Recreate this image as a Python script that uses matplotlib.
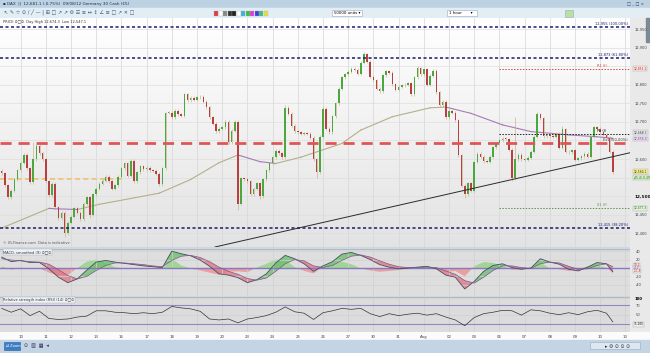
# IG-style DAX hourly chart with MACD and RSI panels
import numpy as np
import matplotlib.pyplot as plt
from matplotlib.patches import Rectangle

W, H = 650, 353

# hourly-ish closes, 8 bars per trading day
closes = [
    12562, 12530, 12497, 12515, 12545, 12570, 12590, 12612, 12575, 12537,
    12600, 12636, 12615, 12600, 12540, 12502, 12533, 12470, 12440, 12455,
    12400, 12428, 12445, 12468, 12455, 12438, 12480, 12497, 12450, 12505,
    12520, 12533, 12542, 12552, 12540, 12520, 12530, 12552, 12575, 12589,
    12555, 12595, 12540, 12565, 12580, 12572, 12576, 12570, 12568, 12560,
    12532, 12575, 12724, 12725, 12712, 12730, 12720, 12716, 12775, 12758,
    12765, 12760, 12766, 12768, 12755, 12740, 12712, 12695, 12675, 12682,
    12685, 12700, 12645, 12676, 12700, 12480, 12548, 12546, 12540, 12505,
    12520, 12535, 12500, 12545, 12570, 12588, 12605, 12622, 12615, 12605,
    12738, 12722, 12690, 12675, 12672, 12668, 12670, 12668, 12658, 12600,
    12565, 12660, 12735, 12682, 12672, 12715, 12750, 12790, 12820, 12828,
    12835, 12843, 12840, 12830, 12860, 12882, 12862, 12822, 12812, 12790,
    12782, 12826, 12836, 12832, 12802, 12786, 12795, 12799, 12800, 12804,
    12775, 12820, 12845, 12828, 12842, 12800, 12825, 12838, 12780, 12745,
    12755, 12712, 12730, 12725, 12705, 12610, 12528, 12505, 12535, 12515,
    12592, 12614, 12606, 12594, 12592, 12606, 12632, 12642, 12650, 12655,
    12654, 12625, 12548, 12600, 12612, 12600, 12598, 12604, 12620, 12660,
    12720, 12710, 12662, 12666, 12662, 12660, 12668, 12630, 12680, 12620,
    12618, 12624, 12598, 12602, 12608, 12614, 12606, 12660, 12685, 12682,
    12672, 12666, 12658, 12620, 12564.1,
]
spike_high = {10: 12645, 90: 12745, 102: 12742, 115: 12888, 163: 12714,
              132: 12850, 178: 12690, 170: 12726}
spike_low = {20: 12390, 75: 12462, 100: 12550, 147: 12495, 162: 12540,
             82: 12492, 28: 12440}

# 200-period moving average (bar index, value)
ma_idx = [0, 15, 17, 24, 31, 50, 60, 69, 75, 82, 87, 95, 108, 114, 124,
          136, 141, 149, 159, 168, 180, 189, 194]
ma_val = [12414, 12467, 12466, 12464, 12478, 12508, 12545, 12590, 12611,
          12593, 12588, 12605, 12642, 12678, 12714, 12738, 12740, 12723,
          12692, 12674, 12665, 12660, 12656]

# oscillators sampled every 3 bars
osc_idx = list(range(0, 193, 3)) + [194]
macd_val = [26, 15, 18, 13, 13, -2, -22, -35, -26, -5, 14, 18, 14, 11, 8, 5,
            3, 1, 40, 34, 29, 19, 4, -14, -17, -23, -35, -28, -14, 12, 30,
            22, 10, -8, 5, 15, 33, 37, 30, 20, 8, 2, -2, 0, 2, 4, -2, -17,
            -22, -50, -32, -8, 6, 10, 1, -3, 0, 22, 14, 9, -3, -7, 2, 13,
            10, -9]
signal_val = [22, 19, 17, 15, 14, 9, -4, -18, -26, -20, -6, 6, 12, 12, 10,
              8, 5, 3, 18, 28, 30, 25, 15, 2, -8, -15, -25, -29, -24, -8,
              10, 20, 17, 5, 1, 6, 18, 28, 31, 26, 17, 9, 3, 1, 1, 2, 1, -7,
              -15, -30, -36, -22, -6, 5, 5, 1, -1, 10, 14, 12, 4, -3, -2, 6,
              10, 3]
rsi_val = [63, 55, 62, 48, 57, 42, 40, 41, 45, 47, 58, 58, 55, 54, 52, 54,
           52, 55, 67, 64, 62, 57, 41, 39, 41, 33, 41, 44, 48, 55, 66, 56,
           53, 40, 54, 58, 63, 61, 63, 52, 46, 52, 48, 51, 53, 49, 52, 45,
           39, 27, 44, 52, 55, 59, 58, 49, 60, 58, 53, 50, 54, 50, 56, 59,
           53, 35]

day_labels = ['10', '11', '12', '13', '16', '17', '18', '19', '20', '23',
              '24', '25', '26', '27', '30', '31', 'Aug', '02', '03', '06',
              '07', '08', '09', '10', '13']
day_start = [6 + 8 * j for j in range(len(day_labels))]

fib_levels = [12955, 12873, 12415]
fib_text = ['12,955 (100.00%)', '12,873 (61.80%)', '12,415 (38.20%)']
fib50 = 12644
old_level = 12545
pivot_names = ['R1 (f)', 'Pv (f)', 'S1 (f)']
pivot_vals = [12843, 12666.3, 12467]
pivot_cols = ['#d04848', '#222222', '#5a9a4a']
trend_idx = [67.7, 199.5]
trend_val = [12363, 12617]


def box(x0, y0, x1, y1):
    return [x0 / W, 1 - y1 / H, (x1 - x0) / W, (y1 - y0) / H]


fig = plt.figure(figsize=(6.5, 3.53), dpi=100)
fig.patch.set_facecolor('#c8d8e6')

# chrome layer in pixel coordinates
bg = fig.add_axes([0, 0, 1, 1])
bg.set_xlim(0, W)
bg.set_ylim(H, 0)
bg.axis('off')
bg.add_patch(Rectangle((0, 0), W, 8, color='#bcd2e3'))
bg.add_patch(Rectangle((0, 8), W, 10, color='#e3edf4'))
bg.add_patch(Rectangle((630, 18), 20, 315, color='#e9e9e9'))
bg.add_patch(Rectangle((0, 332), W, 8, color='#fbfbfb'))
bg.add_patch(Rectangle((0, 340), W, 13, color='#c3d5e4'))
bg.add_patch(Rectangle((646, 18), 4, 24, color='#7a8a96'))
bg.text(3, 4, '\u25aa DAX  ||  12,681.1 (-0.75%)  09/08/12 Germany 30 Cash (\u20ac5)',
        fontsize=3, va='center', color='#1a3050')
bg.text(627, 4, '\u25a1 _ \u25a1 \u00d7', fontsize=3, va='center', color='#335')
tools = '\u2196 \u270e \u2606 \u2299 / \u2571 \u2014 | \u229e \u25a1 \u2197 \u2197 \u2699 \u2630 \u2261 \u2194 \u2195 \u2220 \u2261 \u25a1 \u2197 \u2715 \u25a1'
bg.text(4, 13, tools, fontsize=3.6, va='center', color='#345a80')
for i, c in enumerate(['#e04040', '#ffffff', '#888888', '#333333', '#222222',
                       '#ffffff', '#40b0e0', '#40c040', '#e040e0', '#4040e0',
                       '#40c080', '#e0e040']):
    bg.add_patch(Rectangle((214 + i * 4.5, 10.5), 4, 5, color=c, ec='#aaa', lw=0.2))
bg.add_patch(Rectangle((332, 10), 30, 6, fc='white', ec='#9ab', lw=0.4))
bg.text(334, 13, '50000 units \u25be', fontsize=2.8, va='center')
bg.add_patch(Rectangle((447, 10), 30, 6, fc='white', ec='#9ab', lw=0.4))
bg.text(449, 13, '1 hour       \u25be', fontsize=2.8, va='center')
bg.add_patch(Rectangle((565, 9.5), 8, 7, fc='#b9e0a0', ec='#9ab', lw=0.4))
bg.add_patch(Rectangle((4, 342), 16, 8, fc='#3a7fc6', ec='#2a5f96', lw=0.4))
bg.text(6, 346, '\u21c4 Zoom', fontsize=2.6, va='center', color='white')
bg.text(24, 346, '\u2299  \u25a7  \u25a6  \u25c2', fontsize=3.5, va='center', color='#335')
bg.add_patch(Rectangle((590, 342), 50, 7, fc='#dde7ef', ec='#9ab', lw=0.4))
bg.text(605, 346, '\u25b8 \u2699 \u2299 \u2299 \u2299', fontsize=3.5, va='center', color='#335')

xlim = (-0.54, 199.46)
x_osc = np.array(osc_idx)
grid_c = '#d6d6d6'

# ---- main price panel
ax = fig.add_axes(box(0, 18, 630, 247))
ax.set_xlim(*xlim)
ax.set_ylim(12363, 12980)
grad = np.linspace(1, 0, 100).reshape(-1, 1)
ax.imshow(grad, extent=[xlim[0], xlim[1], 12363, 12980], aspect='auto',
          cmap=plt.cm.colors.LinearSegmentedColormap.from_list('g', ['#e3e3e3', '#ffffff']),
          zorder=0)
for d in day_start:
    ax.axvline(d, color=grid_c, lw=0.5, zorder=1)
for lv in range(12400, 12951, 50):
    ax.axhline(lv, color='#dedede', lw=0.5, zorder=1)

# moving average coloured by slope
for i in range(len(ma_idx) - 1):
    col = '#b4b08a' if ma_val[i + 1] >= ma_val[i] else '#a77ab9'
    ax.plot(ma_idx[i:i + 2], ma_val[i:i + 2], color=col, lw=0.8, zorder=3)

# candles
for i, c in enumerate(closes):
    o = closes[i - 1] if i > 0 else c + 6
    hi = spike_high.get(i, max(o, c) + 4)
    lo = spike_low.get(i, min(o, c) - 4)
    col = '#4aa83e' if c >= o else '#b84040'
    ax.vlines(i, lo, hi, color='#c6b48e', lw=0.6, alpha=0.8, zorder=4)
    ax.bar(i, max(abs(c - o), 1.5), bottom=min(o, c), width=0.5,
           color=col, lw=0, zorder=5)

for lv, t in zip(fib_levels, fib_text):
    ax.axhline(lv, color='#1c1c6e', lw=1.1, ls=(0, (2, 1.6)), zorder=6)
    ax.text(198.8, lv + 3, t, fontsize=2.6, color='#1c1c6e', ha='right',
            va='bottom', zorder=7)
ax.axhline(fib50, color='#e05656', lw=2.0, ls=(0, (4, 2.5)), zorder=6)
ax.text(198.8, fib50 + 3, 'Ex1 (50.00%)', fontsize=2.6, color='#444',
        ha='right', va='bottom', zorder=7)
ax.plot([-0.5, 39], [old_level, old_level], color='#f0c070', lw=1.2,
        ls=(0, (3, 2)), zorder=2)
for n, v, col in zip(pivot_names, pivot_vals, pivot_cols):
    ax.plot([158, 199.5], [v, v], color=col, lw=0.7, ls=(0, (1.5, 1.5)), zorder=6)
    ax.text(192, v + 3, n, fontsize=2.6, color=col, ha='right', va='bottom', zorder=7)
ax.plot(trend_idx, trend_val, color='#2a2a2a', lw=0.7, zorder=6)

ax.yaxis.tick_right()
ticks = [12400, 12450, 12500, 12600, 12700, 12750, 12800, 12900, 12950]
ax.set_yticks(ticks)
ax.set_yticklabels([f'{t:,}' for t in ticks], fontsize=2.6, color='#444')
for lab, t in zip(ax.get_yticklabels(), ticks):
    if t == 12500:
        lab.set_fontweight('bold')
        lab.set_fontsize(3.1)
        lab.set_color('#111')
ax.tick_params(axis='y', length=0, pad=3)
ax.set_xticks([])
for s in ax.spines.values():
    s.set_visible(False)

# right-hand value boxes
tags = [(12843, '12,851.2', '#fbe3e3', '#c03030'),
        (12671, '12,668.3', '#e8e8ee', '#333333'),
        (12654, '12,656.4', '#ece0f2', '#7a4a9a'),
        (12566, '12,564.1', '#f7ee90', '#333300'),
        (12550, '-45.4/-0.4%', '#d8f0c8', '#2a6a1a'),
        (12467, '12,477.3', '#e2f0da', '#3a7a2a')]
for v, t, fc, tc in tags:
    ax.text(200.6, v, t, fontsize=2.2, color=tc, va='center', ha='left',
            clip_on=False, zorder=8,
            bbox=dict(boxstyle='square,pad=0.15', fc=fc, ec='#aaa', lw=0.3))
ax.text(0.5, 12975, 'PRICE \u2299\u25a1\u2299  Day High 12,674.3  Low 12,547.1',
        fontsize=2.6, color='#333', va='top', zorder=8)
ax.text(0.5, 12368, '\u00a9 IG-Finance.com  Data is indicative', fontsize=2.6,
        color='#555', va='bottom', zorder=8)

# ---- MACD panel
mx = fig.add_axes(box(0, 249, 630, 296))
mx.set_xlim(*xlim)
mx.set_ylim(-66.7, 45.2)
mx.set_facecolor('#dedede')
macd = np.array(macd_val, float)
sig = np.array(signal_val, float)
hist = macd - sig
for d in day_start:
    mx.axvline(d, color='#cfcfcf', lw=0.5)
for lv in (40, 20, -20, -40):
    mx.axhline(lv, color='#d2d2d2', lw=0.5)
mx.fill_between(x_osc, 0, hist, where=hist >= 0, interpolate=True,
                color='#9ad48e', alpha=0.9, lw=0)
mx.fill_between(x_osc, 0, hist, where=hist < 0, interpolate=True,
                color='#eb9a9a', alpha=0.9, lw=0)
mx.fill_between(x_osc, macd, sig, where=macd >= sig, interpolate=True,
                color='#6cbf6c', alpha=0.8, lw=0)
mx.fill_between(x_osc, macd, sig, where=macd < sig, interpolate=True,
                color='#e07a86', alpha=0.8, lw=0)
mx.axhline(0, color='#8878c0', lw=1.0)
mx.plot(x_osc, macd, color='#4a4a6a', lw=0.6)
mx.plot(x_osc, sig, color='#7a5a8a', lw=0.5)
mx.yaxis.tick_right()
mx.set_yticks([40, 20, -20, -40])
mx.set_yticklabels(['40', '20', '-20', '-40'], fontsize=2.6, color='#444')
mx.tick_params(axis='y', length=0, pad=4)
mx.set_xticks([])
for s in mx.spines.values():
    s.set_visible(False)
mx.axhline(45.2, color='#b8b8b8', lw=1)
for v, t, fc, tc in [(7, '10.2', '#fbe3e3', '#c03030'),
                     (0, '-4.2', '#e6e2f2', '#5a4a9a'),
                     (-7, '-11.8', '#fbe3e3', '#c03030')]:
    mx.text(200.6, v, t, fontsize=2.1, color=tc, va='center', clip_on=False,
            bbox=dict(boxstyle='square,pad=0.12', fc=fc, ec='#aaa', lw=0.3))
mx.text(0.5, 43, 'MACD, smoothed (9) \u2299\u25a1\u2299', fontsize=2.6,
        color='#333', va='top',
        bbox=dict(boxstyle='square,pad=0.2', fc='#eef2f6', ec='#aab', lw=0.3))

# ---- RSI panel
rx = fig.add_axes(box(0, 297, 630, 332))
rx.set_xlim(*xlim)
rx.set_ylim(14, 86.6)
rx.set_facecolor('#dcdcdc')
for d in day_start:
    rx.axvline(d, color='#cfcfcf', lw=0.5)
rx.axhline(70, color='#9484c8', lw=0.8)
rx.axhline(30, color='#9484c8', lw=0.8)
rx.axhline(50, color='#d0d0d0', lw=0.5)
rx.plot(x_osc, rsi_val, color='#333333', lw=0.5)
rx.yaxis.tick_right()
rx.set_yticks([70, 50])
rx.set_yticklabels(['70', '50'], fontsize=2.6, color='#444')
rx.tick_params(axis='y', length=0, pad=4)
rx.set_xticks(day_start)
rx.set_xticklabels(day_labels, fontsize=2.8, color='#444')
rx.tick_params(axis='x', length=0, pad=2.5)
for s in rx.spines.values():
    s.set_visible(False)
rx.axhline(86.6, color='#b8b8b8', lw=1)
rx.text(201, 83, '100', fontsize=2.8, fontweight='bold', va='center',
        clip_on=False)
rx.text(200.6, 30, '35.105', fontsize=2.1, va='center', clip_on=False,
        bbox=dict(boxstyle='square,pad=0.12', fc='#eeeeee', ec='#aaa', lw=0.3))
rx.text(0.5, 84.5, 'Relative strength index (RSI) (14) \u2299\u25a1\u2299',
        fontsize=2.6, color='#333', va='top',
        bbox=dict(boxstyle='square,pad=0.2', fc='#eef2f6', ec='#aab', lw=0.3))

fig.savefig('out.png', dpi=100)
